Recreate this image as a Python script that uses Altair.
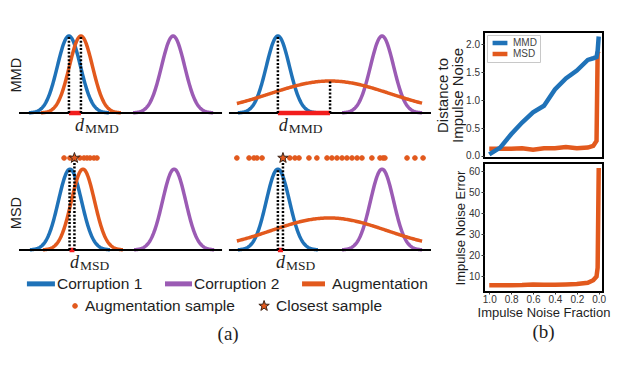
import altair as alt
import numpy as np
import pandas as pd

BLUE = "#1f72b8"
ORANGE = "#e2591d"
PURPLE = "#9b5bb4"
RED = "#f21d1d"
INK = "#1e1e1e"
SANS = "Liberation Sans"
SERIF = "Liberation Serif"
STAR = ("M0,-1L0.235,-0.324L0.951,-0.309L0.380,0.124L0.588,0.809L0,0.4"
        "L-0.588,0.809L-0.380,0.124L-0.951,-0.309L-0.235,-0.324Z")

# ================= (a) schematic =================
panel_ids = ["MMD_near", "MMD_far", "MSD_near", "MSD_far"]
panel_xoff = [0.0, 10.34, 0.0, 10.34]
panel_base = [1.779, 1.779, 0.0, 0.0]
panel_len = [10.0, 9.95, 10.0, 9.95]

curve_panel = ["MMD_near"] * 3 + ["MMD_far"] * 3 + ["MSD_near"] * 3 + ["MSD_far"] * 3
curve_series = ["Corruption 1", "Corruption 2", "Augmentation"] * 4
curve_mu = [2.46, 7.59, 3.05, 2.41, 7.54, 4.98, 2.51, 7.64, 3.15, 2.41, 7.54, 4.93]
curve_sd = [0.57, 0.57, 0.57, 0.57, 0.57, 2.95, 0.57, 0.57, 0.57, 0.57, 0.57, 2.85]
curve_amp = [1.0, 1.0, 1.0, 1.0, 1.0, 0.416, 1.05, 1.05, 1.05, 1.05, 1.05, 0.416]
curve_lo = [0.49, 5.62, 1.08, 0.44, 5.57, 0.39, 0.54, 5.67, 1.18, 0.44, 5.57, 0.39]
curve_hi = [4.43, 9.56, 5.02, 4.38, 9.51, 9.51, 4.48, 9.61, 5.12, 4.38, 9.51, 9.51]

guide_panel = ["MMD_near", "MMD_near", "MMD_far", "MMD_far",
               "MSD_near", "MSD_near", "MSD_far", "MSD_far"]
guide_x = [2.46, 3.05, 2.41, 4.98, 2.49, 2.73, 2.41, 2.66]
guide_top = [1.0, 1.0, 1.0, 0.416, 1.05, 1.195, 1.05, 1.195]

seg_lo = [2.46, 2.41, 2.49, 2.41]
seg_hi = [3.05, 4.98, 2.73, 2.66]

sample_row = 1.195
near_samples = [2.22, 2.51, 3.00, 3.20, 3.35, 3.50, 3.69, 3.84]
far_samples = [0.39, 0.99, 1.23, 1.38, 1.63, 3.00, 3.25, 3.45, 3.94, 4.33, 4.83,
               5.07, 5.32, 5.57, 5.81, 6.06, 6.31, 6.55, 7.04, 7.44, 7.59, 7.68,
               8.77, 9.16, 9.56]
closest_panel = ["MSD_near", "MSD_far"]
closest_x = [2.73, 2.66]

label_x = [3.20, 2.90, 2.95, 2.76]
label_sub = ["MMD", "MMD", "MSD", "MSD"]

row_names = ["MMD", "MSD"]
row_label_y = [2.27, 0.48]

series_names = ["Corruption 1", "Corruption 2", "Augmentation"]
kinds = ["Augmentation sample", "Closest sample"]

# legend rows of panel (a)
key_line_x1 = [0.39, 7.19, 13.94]
key_line_x2 = [1.77, 8.52, 15.07]
key_line_tx = [1.87, 8.62, 15.42]
key_line_y = -0.44
key_pt_x = [2.76, 12.07]
key_pt_tx = [3.25, 12.66]
key_pt_y = -0.727

xoff = dict(zip(panel_ids, panel_xoff))
ybase = dict(zip(panel_ids, panel_base))

rows = []
for i, (p, s, mu, sd, amp, lo, hi) in enumerate(zip(curve_panel, curve_series, curve_mu,
                                                    curve_sd, curve_amp, curve_lo, curve_hi)):
    for x in np.linspace(lo, hi, 160):
        rows.append({"cid": i, "series": s, "gx": float(x + xoff[p]),
                     "gy": float(ybase[p] + amp * np.exp(-0.5 * ((x - mu) / sd) ** 2))})
curves_df = pd.DataFrame(rows)

base_df = pd.DataFrame({"x1": panel_xoff,
                        "x2": [a + b for a, b in zip(panel_xoff, panel_len)],
                        "y": panel_base})
guide_df = pd.DataFrame({"x": [g + xoff[p] for g, p in zip(guide_x, guide_panel)],
                         "y1": [ybase[p] for p in guide_panel],
                         "y2": [ybase[p] + t for p, t in zip(guide_panel, guide_top)]})
seg_df = pd.DataFrame({"x1": [a + xoff[p] for a, p in zip(seg_lo, panel_ids)],
                       "x2": [b + xoff[p] for b, p in zip(seg_hi, panel_ids)],
                       "y": panel_base})
samp = ([{"gx": v + xoff["MSD_near"], "gy": sample_row, "kind": kinds[0]} for v in near_samples]
        + [{"gx": v + xoff["MSD_far"], "gy": sample_row, "kind": kinds[0]} for v in far_samples]
        + [{"gx": v + xoff[p], "gy": sample_row, "kind": kinds[1]}
           for v, p in zip(closest_x, closest_panel)])
samp_df = pd.DataFrame(samp)
lab_df = pd.DataFrame({"gx": [v + xoff[p] for v, p in zip(label_x, panel_ids)],
                       "yd": [ybase[p] - 0.24 for p in panel_ids],
                       "ys": [ybase[p] - 0.265 for p in panel_ids],
                       "d": ["d"] * 4, "sub": label_sub})
rowlab_df = pd.DataFrame({"gx": [-0.074, -0.074], "gy": row_label_y, "t": row_names})
tag_df = pd.DataFrame({"gx": [10.30], "gy": [-1.09], "t": ["(a)"]})
key_line_df = pd.DataFrame({"series": series_names, "x1": key_line_x1, "x2": key_line_x2,
                            "tx": key_line_tx, "y": [key_line_y] * 3})
key_pt_df = pd.DataFrame({"kind": kinds, "x": key_pt_x, "tx": key_pt_tx,
                          "y": [key_pt_y] * 2})

XS = alt.Scale(domain=[-0.443, 20.34], nice=False, zero=False)
YS = alt.Scale(domain=[-1.247, 3.130], nice=False, zero=False)
series_color = alt.Scale(domain=series_names, range=[BLUE, PURPLE, ORANGE])
kind_shape = alt.Scale(domain=kinds, range=["circle", STAR])
kind_size = alt.Scale(domain=kinds, range=[22, 120])
kind_stroke = alt.Scale(domain=kinds, range=[ORANGE, "#3a2418"])

curves = alt.Chart(curves_df).mark_line(strokeWidth=3.5).encode(
    x=alt.X("gx:Q", scale=XS, axis=None),
    y=alt.Y("gy:Q", scale=YS, axis=None),
    color=alt.Color("series:N", scale=series_color, legend=None),
    detail="cid:N",
)
baselines = alt.Chart(base_df).mark_rule(color="black", strokeWidth=2).encode(
    x="x1:Q", x2="x2:Q", y="y:Q")
segs = alt.Chart(seg_df).mark_rule(color=RED, strokeWidth=4.5).encode(
    x="x1:Q", x2="x2:Q", y="y:Q")
guides = alt.Chart(guide_df).mark_rule(color="black", strokeWidth=2.5,
                                       strokeDash=[2, 1.7]).encode(
    x="x:Q", y="y1:Q", y2="y2:Q")
points = alt.Chart(samp_df).mark_point(filled=True, opacity=1, strokeWidth=1).encode(
    x="gx:Q", y="gy:Q",
    shape=alt.Shape("kind:N", scale=kind_shape, legend=None),
    size=alt.Size("kind:N", scale=kind_size, legend=None),
    stroke=alt.Stroke("kind:N", scale=kind_stroke, legend=None),
    fill=alt.value(ORANGE),
)
d_main = alt.Chart(lab_df).mark_text(font=SERIF, fontStyle="italic", fontSize=18,
                                     align="right", baseline="alphabetic", color=INK).encode(
    x="gx:Q", y="yd:Q", text="d:N")
d_sub = alt.Chart(lab_df).mark_text(font=SERIF, fontSize=13.5, align="left",
                                    baseline="alphabetic", color=INK, dx=1).encode(
    x="gx:Q", y="ys:Q", text="sub:N")
row_labels = alt.Chart(rowlab_df).mark_text(font=SANS, fontSize=14.5, angle=270,
                                            align="center", baseline="middle",
                                            color=INK).encode(
    x="gx:Q", y="gy:Q", text="t:N")
tag_a = alt.Chart(tag_df).mark_text(font=SERIF, fontSize=19, align="center",
                                    baseline="middle", color=INK).encode(
    x="gx:Q", y="gy:Q", text="t:N")

# key (legend) for panel (a)
key_lines = alt.Chart(key_line_df).mark_rule(strokeWidth=5).encode(
    x="x1:Q", x2="x2:Q", y="y:Q",
    color=alt.Color("series:N", scale=series_color, legend=None))
key_line_text = alt.Chart(key_line_df).mark_text(font=SANS, fontSize=15.5, align="left",
                                                 baseline="middle", color=INK).encode(
    x="tx:Q", y="y:Q", text="series:N")
key_pts = alt.Chart(key_pt_df).mark_point(filled=True, opacity=1, strokeWidth=1).encode(
    x="x:Q", y="y:Q",
    shape=alt.Shape("kind:N", scale=kind_shape, legend=None),
    size=alt.Size("kind:N", scale=kind_size, legend=None),
    stroke=alt.Stroke("kind:N", scale=kind_stroke, legend=None),
    fill=alt.value(ORANGE))
key_pt_text = alt.Chart(key_pt_df).mark_text(font=SANS, fontSize=15.5, align="left",
                                             baseline="middle", color=INK).encode(
    x="tx:Q", y="y:Q", text="kind:N")

panel_a = alt.layer(curves, baselines, segs, guides, points, d_main, d_sub,
                    row_labels, tag_a, key_lines, key_line_text, key_pts,
                    key_pt_text).properties(width=422, height=337)

# ================= (b) impulse-noise curves =================
frac = [1.0, 0.9, 0.8, 0.7, 0.6, 0.5, 0.4, 0.3, 0.2, 0.1, 0.05, 0.02, 0.01, 0.0]
mmd = [0.03, 0.15, 0.39, 0.60, 0.78, 0.90, 1.19, 1.39, 1.53, 1.72, 1.75, 1.77, 1.88, 2.14]
msd = [0.13, 0.13, 0.13, 0.14, 0.11, 0.14, 0.14, 0.16, 0.14, 0.15, 0.18, 0.27, 1.85, 1.88]
err = [5.6, 5.6, 5.6, 5.7, 6.0, 5.9, 5.9, 6.0, 6.2, 6.8, 8.0, 9.8, 14.0, 61.5]

mmd_df = pd.DataFrame({"frac": frac, "dist": mmd, "method": ["MMD"] * len(frac)})
msd_df = pd.DataFrame({"frac": frac, "dist": msd, "method": ["MSD"] * len(frac)})
err_df = pd.DataFrame({"frac": frac, "err": err})

BX = alt.Scale(domain=[1.048, -0.039], nice=False, zero=False)
BY1 = alt.Scale(domain=[-0.036, 2.22], nice=False, zero=False)
frame = alt.ViewBackground(stroke="black", strokeWidth=2)

ytop_axis = alt.Axis(values=[0.0, 0.5, 1.0, 1.5, 2.0], format=".1f",
                     title=["Distance to", "Impulse Noise"], titleFontSize=15,
                     titleLineHeight=15, titlePadding=0)
leg_b = alt.Legend(title=None, orient="top-left", offset=3, padding=3,
                   strokeColor="#c8c8c8", fillColor="white", symbolType="stroke",
                   symbolSize=220, symbolStrokeWidth=4.5, labelFont=SANS,
                   labelFontSize=10, labelColor="#444", labelOffset=3, rowPadding=1,
                   clipHeight=10)
color_b = alt.Color("method:N", scale=alt.Scale(domain=["MMD", "MSD"], range=[BLUE, ORANGE]),
                    legend=leg_b)
line_msd = alt.Chart(msd_df).mark_line(strokeWidth=4.5).encode(
    x=alt.X("frac:Q", scale=BX, axis=None),
    y=alt.Y("dist:Q", scale=BY1, axis=ytop_axis),
    color=color_b)
line_mmd = alt.Chart(mmd_df).mark_line(strokeWidth=4.5).encode(
    x=alt.X("frac:Q", scale=BX, axis=None),
    y=alt.Y("dist:Q", scale=BY1, axis=ytop_axis),
    color=color_b)
b_top = alt.layer(line_msd, line_mmd).properties(width=119, height=126, view=frame)

b_bot = alt.Chart(err_df).mark_line(color=ORANGE, strokeWidth=4.5).encode(
    x=alt.X("frac:Q", scale=BX,
            axis=alt.Axis(values=[1.0, 0.8, 0.6, 0.4, 0.2, 0.0], format=".1f",
                          title="Impulse Noise Fraction", titleFontSize=13,
                          tickSize=2, labelPadding=0, titlePadding=2)),
    y=alt.Y("err:Q", scale=alt.Scale(domain=[2.4, 63.9], nice=False, zero=False),
            axis=alt.Axis(values=[10, 20, 30, 40, 50, 60],
                          title="Impulse Noise Error", titleFontSize=13,
                          titlePadding=1)),
).properties(width=119, height=129, view=frame,
             title=alt.TitleParams("(b)", orient="bottom", font=SERIF, fontSize=19,
                                   fontWeight="normal", color=INK, offset=4))

spacer = alt.Chart(pd.DataFrame({"v": [0.0]})).mark_point(opacity=0).encode(
    x=alt.X("v:Q", axis=None), y=alt.Y("v:Q", axis=None)
).properties(width=119, height=18)

panel_b = alt.vconcat(spacer, b_top, b_bot, spacing=5, bounds="flush").resolve_scale(
    color="independent").resolve_legend(color="independent")

chart = alt.hconcat(panel_a, panel_b, spacing=1).resolve_scale(
    color="independent", shape="independent", size="independent", stroke="independent"
).resolve_legend(color="independent").properties(padding=0).configure_view(
    stroke="transparent"
).configure_axis(
    labelFont=SANS, titleFont=SANS, labelFontSize=10, labelColor="#333",
    titleColor=INK, titleFontWeight="normal", tickColor="#333", tickSize=3,
    labelPadding=1.5, grid=False, domain=False
).configure_title(font=SERIF)

chart.save("out.html", embed_options={"renderer": "svg", "actions": False})
